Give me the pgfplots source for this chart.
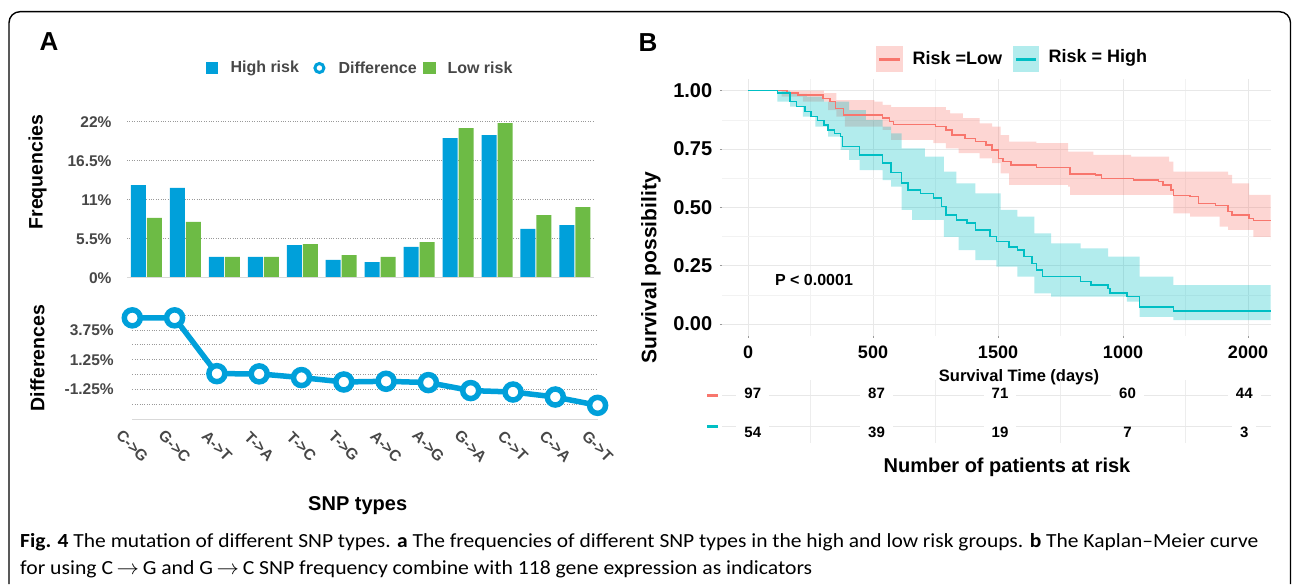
\documentclass[border=0pt]{standalone}
\usepackage{pgfplots}
\pgfplotsset{compat=1.18}
\usepackage{graphicx}
\usepackage{fontspec}
\setmainfont{Liberation Sans}
\newfontfamily\capfont{Carlito}

\definecolor{snpblue}{HTML}{00A0DA}
\definecolor{snpgreen}{HTML}{6DBB45}
\definecolor{kmred}{HTML}{F8766D}
\definecolor{kmteal}{HTML}{00BFC4}
\newcommand{\fs}[1]{\fontsize{#1}{#1}\selectfont}

\begin{document}
\begin{tikzpicture}[x=1pt,y=1pt]
\path (0,0) rectangle (1292,584);

% frame round the figure
\draw[line width=1.4pt, rounded corners=11pt] (9,0) -- (9,572.3) -- (1290.5,572.3) -- (1290.5,0);

% ---------------- panel A : frequencies ----------------
\node[font=\fs{26}\bfseries] at (49,542) {A};

\fill[snpblue] (206,510) rectangle (218,522);
\node[anchor=west, font=\fs{16}\bfseries, text=black!72] at (227,516) {High risk};
\draw[snpblue, line width=3pt, fill=white] (319.4,516) circle (4.5pt);
\node[anchor=west, font=\fs{16}\bfseries, text=black!72] at (335,516) {Difference};
\fill[snpgreen] (423,510) rectangle (436,522);
\node[anchor=west, font=\fs{16}\bfseries, text=black!72] at (444,516) {Low risk};

\node[rotate=90, font=\fs{19.5}\bfseries] at (37.5,412) {Frequencies};
\node[rotate=90, font=\fs{19.5}\bfseries] at (37.5,226) {Differences};
\node[font=\fs{20}\bfseries] at (357.7,78) {SNP types};

\begin{axis}[
    at={(127pt,306.3pt)}, anchor=south west, scale only axis,
    width=467.4pt, height=156pt,
    xmin=-0.5, xmax=11.5, ymin=0, ymax=22,
    ybar, bar width=15pt,
    xtick=\empty,
    ytick={0,5.5,11,16.5,22},
    yticklabels={0\%,5.5\%,11\%,16.5\%,22\%},
    yticklabel style={font=\fs{15.5}\bfseries, text=black!72, xshift=-12pt},
    ymajorgrids, major grid style={dotted, black!40, line width=0.8pt},
    axis line style={draw=none}, major tick length=0pt,
    clip=false,
]
\addplot[fill=snpblue, draw=none, bar shift=-8pt] coordinates {
    (0,13.07) (1,12.65) (2,2.92) (3,2.92) (4,4.61) (5,2.50)
    (6,2.21) (7,4.33) (8,19.70) (9,20.10) (10,6.87) (11,7.43)
};
\addplot[fill=snpgreen, draw=none, bar shift=8pt] coordinates {
    (0,8.42) (1,7.86) (2,2.92) (3,2.92) (4,4.75) (5,3.20)
    (6,2.92) (7,5.03) (8,21.10) (9,21.80) (10,8.84) (11,9.97)
};
\draw[black!15, line width=1.5pt] (rel axis cs:0,0) -- (rel axis cs:1,0);
\end{axis}

% ---------------- panel A : differences ----------------
\begin{axis}[
    at={(132.3pt,164.7pt)}, anchor=south west, scale only axis,
    width=465.3pt, height=104.3pt,
    xmin=0, xmax=11, ymin=-3.75, ymax=5,
    xtick={0,...,11},
    xticklabels={C->G,G->C,A->T,T->A,T->C,T->G,A->C,A->G,G->A,C->T,C->A,G->T},
    xticklabel style={font=\fs{15.5}\bfseries, text=black!72, anchor=center, yshift=-27pt, rotate=-45},
    ytick={-3.75,-2.5,-1.25,0,1.25,2.5,3.75,5},
    yticklabels={,,-1.25\%,,1.25\%,,3.75\%,},
    yticklabel style={font=\fs{15.5}\bfseries, text=black!72, xshift=-15pt},
    ymajorgrids, major grid style={dotted, black!40, line width=0.8pt},
    axis line style={draw=none}, major tick length=0pt,
    clip=false,
]
\draw[black!15, line width=1.5pt] (rel axis cs:0,0) -- (rel axis cs:1,0);
\addplot[snpblue, line width=5.5pt, mark=*, mark size=8pt,
    mark options={fill=white, draw=snpblue, line width=5.5pt}] coordinates {
    (0,4.76) (1,4.76) (2,0.08) (3,0.06) (4,-0.25) (5,-0.62)
    (6,-0.56) (7,-0.67) (8,-1.34) (9,-1.46) (10,-1.88) (11,-2.58)
};
\end{axis}

% ---------------- panel B : Kaplan-Meier ----------------
\node[font=\fs{26}\bfseries] at (648,541) {B};

\fill[kmred, opacity=0.3] (876,512) rectangle (903,538);
\draw[kmred, line width=3pt] (879,524.7) -- (900,524.7);
\node[anchor=west, font=\fs{18}\bfseries] at (909,526) {Risk =Low};
\fill[kmteal, opacity=0.3] (1013,512) rectangle (1039,538);
\draw[kmteal, line width=3pt] (1016,524.7) -- (1036,524.7);
\node[anchor=west, font=\fs{18}\bfseries] at (1045,526) {Risk = High};

\node[rotate=90, font=\fs{21}\bfseries] at (651,316) {Survival possibility};

\begin{axis}[
    at={(721.75pt,248.3pt)}, anchor=south west, scale only axis,
    width=548.75pt, height=256.7pt,
    xmin=-105, xmax=2090, ymin=-0.05, ymax=1.05,
    xtick={0,500,1000,1500,2000},
    xticklabels={0,500,1500,1000,2000},
    minor xtick={250,750,1250,1750},
    ytick={0,0.25,0.5,0.75,1},
    yticklabels={0.00,0.25,0.50,0.75,1.00},
    minor ytick={0.125,0.375,0.625,0.875},
    grid=both,
    major grid style={black!9, line width=0.9pt},
    minor grid style={black!5, line width=0.6pt},
    axis line style={draw=none},
    tick pos=left, tick align=outside,
    major tick length=2pt, minor tick length=0pt,
    tick style={black!40, line width=0.8pt},
    xticklabel style={font=\fs{18}\bfseries, yshift=-5pt},
    yticklabel style={font=\fs{20}\bfseries, xshift=-4pt},
    clip=false,
]
% 95% confidence bands, upper bound left to right then lower bound back
\addplot[fill=kmred, fill opacity=0.3, draw=none] coordinates {
    (0,1) (303,1) (303,0.989) (353,0.989) (353,0.96) (505,0.96) (505,0.953)
    (538,0.953) (538,0.939) (572,0.939) (572,0.929) (791,0.929) (791,0.917)
    (808,0.917) (808,0.903) (859,0.903) (859,0.882) (926,0.882) (926,0.86)
    (976,0.86) (976,0.846) (1010,0.846) (1010,0.81) (1044,0.81) (1044,0.782)
    (1153,0.782) (1153,0.775) (1280,0.775) (1280,0.739) (1381,0.739)
    (1381,0.725) (1532,0.725) (1532,0.717) (1684,0.717) (1684,0.696)
    (1701,0.696) (1701,0.653) (1920,0.653) (1920,0.639) (1936,0.639)
    (1936,0.603) (2004,0.603) (2004,0.553) (2090,0.553)
    (2090,0.36) (2090,0.374) (2021,0.374) (2021,0.403) (1920,0.403)
    (1920,0.417) (1886,0.417) (1886,0.46) (1768,0.46) (1768,0.474)
    (1701,0.474) (1701,0.553) (1288,0.553) (1288,0.589) (1280,0.589)
    (1280,0.596) (1044,0.596) (1044,0.646) (1010,0.646) (1010,0.689)
    (976,0.689) (976,0.71) (926,0.71) (926,0.732) (842,0.732) (842,0.753)
    (791,0.753) (791,0.775) (741,0.775) (741,0.789) (572,0.789) (572,0.832)
    (538,0.832) (538,0.846) (387,0.846) (387,0.889) (353,0.889) (353,0.917)
    (320,0.917) (320,0.953) (219,0.953) (219,0.974) (134,0.974) (134,1) (0,1)
} -- cycle;
\addplot[fill=kmteal, fill opacity=0.3, draw=none] coordinates {
    (0,1) (168,1) (168,0.986) (235,0.986) (235,0.974) (303,0.974) (303,0.953)
    (404,0.953) (404,0.917) (471,0.917) (471,0.875) (538,0.875) (538,0.846)
    (572,0.846) (572,0.817) (614,0.817) (614,0.753) (707,0.753) (707,0.717)
    (783,0.717) (783,0.653) (833,0.653) (833,0.603) (909,0.603) (909,0.56)
    (1010,0.56) (1010,0.489) (1077,0.489) (1077,0.46) (1145,0.46) (1145,0.389)
    (1212,0.389) (1212,0.346) (1330,0.346) (1330,0.324) (1440,0.324)
    (1440,0.289) (1566,0.289) (1566,0.203) (1701,0.203) (1701,0.167) (2090,0.167)
    (2090,0.017) (1701,0.017) (1701,0.031) (1566,0.031) (1566,0.096)
    (1515,0.096) (1515,0.117) (1212,0.117) (1212,0.131) (1145,0.131)
    (1145,0.203) (1077,0.203) (1077,0.246) (993,0.246) (993,0.274)
    (909,0.274) (909,0.317) (842,0.317) (842,0.374) (783,0.374) (783,0.446)
    (656,0.446) (656,0.489) (614,0.489) (614,0.589) (572,0.589) (572,0.617)
    (538,0.617) (538,0.66) (446,0.66) (446,0.703) (404,0.703) (404,0.746)
    (370,0.746) (370,0.803) (320,0.803) (320,0.846) (269,0.846) (269,0.889)
    (219,0.889) (219,0.932) (168,0.932) (168,0.953) (117,0.953) (117,1) (0,1)
} -- cycle;

% survival curves
\addplot[kmred, line width=1.5pt, const plot] coordinates {
    (0,1.0) (155,0.989) (200,0.981) (300,0.967) (328,0.953) (350,0.924)
    (381,0.896) (538,0.882) (565,0.867) (581,0.856) (749,0.846) (791,0.832)
    (816,0.81) (867,0.796) (909,0.782) (951,0.768) (976,0.746) (1002,0.71)
    (1019,0.696) (1052,0.682) (1153,0.67) (1288,0.643) (1389,0.639)
    (1414,0.624) (1541,0.617) (1642,0.61) (1659,0.596) (1692,0.574)
    (1701,0.55) (1768,0.546) (1802,0.517) (1869,0.507) (1920,0.482)
    (1936,0.467) (2004,0.453) (2021,0.443) (2090,0.443)
};
\addplot[kmteal, line width=1.5pt, const plot] coordinates {
    (0,1.0) (117,0.989) (168,0.953) (193,0.932) (227,0.91) (252,0.889)
    (277,0.872) (303,0.853) (320,0.832) (345,0.817) (370,0.803) (378,0.76)
    (446,0.724) (538,0.689) (572,0.649) (614,0.604) (640,0.575) (690,0.56)
    (741,0.539) (774,0.503) (791,0.467) (833,0.446) (875,0.432) (909,0.403)
    (968,0.375) (993,0.353) (1044,0.331) (1077,0.317) (1103,0.289)
    (1136,0.26) (1153,0.232) (1178,0.203) (1330,0.182) (1372,0.167)
    (1440,0.153) (1448,0.132) (1515,0.117) (1566,0.074) (1701,0.055) (2090,0.055)
};
\node[font=\fs{16}\bfseries] at (axis cs:264,0.189) {P < 0.0001};
\end{axis}

\node[font=\fs{16.5}\bfseries] at (1019,207) {Survival Time (days)};

% number at risk table
\draw[kmred, line width=3pt] (707,189) -- (718,189);
\draw[kmteal, line width=3pt] (707,158) -- (718,158);
\foreach \xx in {810.5,935.5,1060.5,1185.5}
    \draw[black!7, line width=0.7pt] (\xx,141) -- (\xx,204);
\draw[black!9, line width=0.9pt] (721.75,189) -- (1270.5,189);
\draw[black!9, line width=0.9pt] (721.75,158) -- (1270.5,158);
\tikzset{risk/.style={fill=white, inner xsep=8pt, inner ysep=1pt, font=\fs{15}\bfseries}}
\node[risk] at (752.75,190.7) {97};
\node[risk] at (876.5,190.7) {87};
\node[risk] at (1000,190.7) {71};
\node[risk] at (1127.5,190.7) {60};
\node[risk] at (1244.25,190.7) {44};
\node[risk] at (752.75,151.3) {54};
\node[risk] at (876.5,151.3) {39};
\node[risk] at (1000,151.3) {19};
\node[risk] at (1127.5,151.3) {7};
\node[risk] at (1244.25,151.3) {3};

\node[font=\fs{20}\bfseries] at (1007,117) {Number of patients at risk};

% caption
\node[anchor=west, inner sep=0pt] at (20,42) {\resizebox{1238pt}{\height}{\capfont\fs{20}\textbf{Fig. 4} The mutation of different SNP types. \textbf{a} The frequencies of different SNP types in the high and low risk groups. \textbf{b} The Kaplan–Meier curve}};
\node[anchor=west, inner sep=0pt] at (20,15) {\resizebox{792pt}{\height}{\capfont\fs{20}for using C\,\(\rightarrow\)\,G and G\,\(\rightarrow\)\,C SNP frequency combine with 118 gene expression as indicators}};

\end{tikzpicture}
\end{document}
